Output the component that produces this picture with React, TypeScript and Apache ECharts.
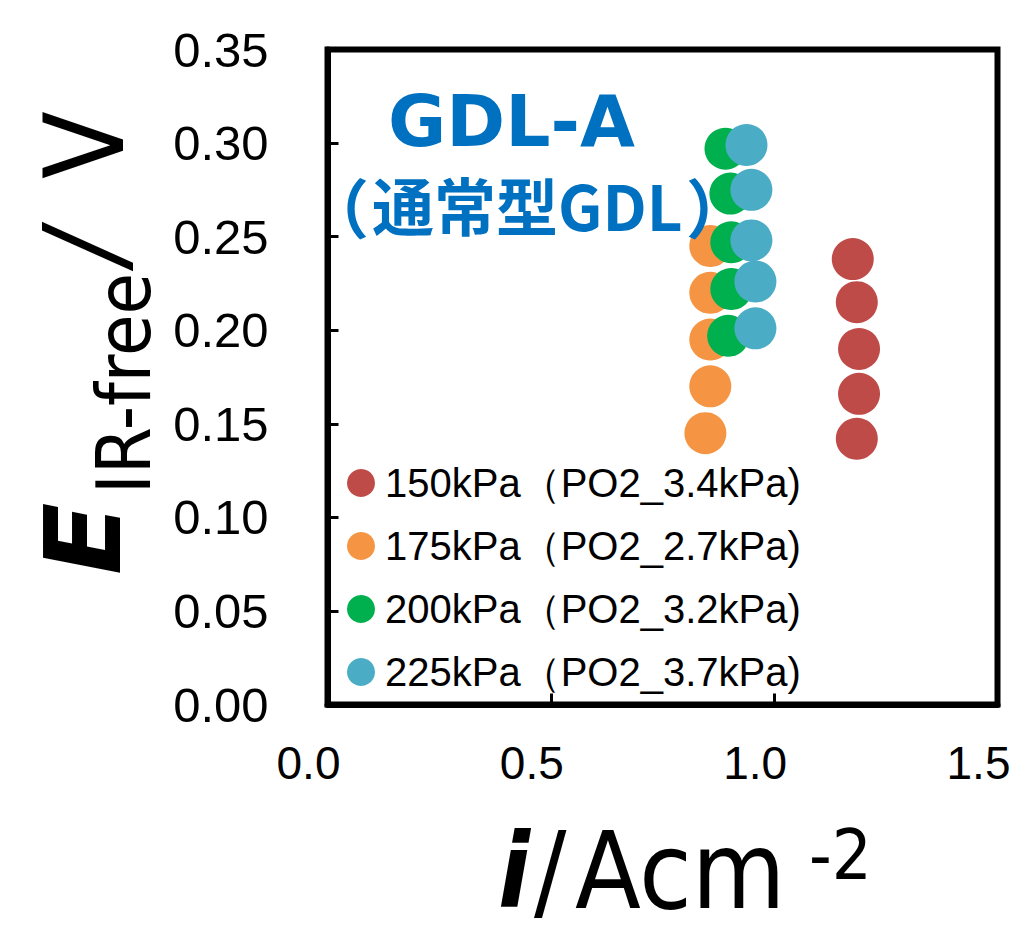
import React, { useEffect, useRef } from "react";
import * as echarts from "echarts";

const seriesNames = [
  "150kPa（PO2_3.4kPa)",
  "175kPa（PO2_2.7kPa)",
  "200kPa（PO2_3.2kPa)",
  "225kPa（PO2_3.7kPa)",
];
const seriesColors = ["#BE4B48", "#F59543", "#00B04F", "#4BACC6"];

const x150 = [1.176, 1.185, 1.19, 1.19, 1.185];
const y150 = [0.238, 0.215, 0.19, 0.166, 0.142];
const x175 = [0.857, 0.857, 0.857, 0.857, 0.846];
const y175 = [0.245, 0.22, 0.195, 0.17, 0.145];
const x200 = [0.891, 0.902, 0.904, 0.904, 0.897];
const y200 = [0.297, 0.273, 0.247, 0.222, 0.197];
const x225 = [0.938, 0.949, 0.949, 0.958, 0.958];
const y225 = [0.299, 0.275, 0.248, 0.226, 0.201];

const xs = [x150, x175, x200, x225];
const ys = [y150, y175, y200, y225];

const TF = "'DejaVu Sans Condensed', 'Open Sans', sans-serif";

const txt = (x: number, y: number, text: string, font: string, extra: any = {}) => ({
  type: "text",
  x,
  y,
  rotation: extra.rotation || 0,
  z: 10,
  style: {
    text,
    fill: extra.fill || "#000",
    font,
    textAlign: extra.align || "left",
    textVerticalAlign: "middle",
    lineHeight: extra.lineHeight,
  },
});

export default function App() {
  const ref = useRef<HTMLDivElement>(null);
  useEffect(() => {
    if (!ref.current) return;
    const chart = echarts.init(ref.current, null, { renderer: "svg" });
    const series = seriesNames.map((name, i) => ({
      name,
      type: "scatter",
      symbol: "circle",
      symbolSize: 42,
      itemStyle: { color: seriesColors[i], opacity: 1 },
      data: xs[i].map((x, k) => [x, ys[i][k]]),
      z: 2 + i,
    }));
    const axisLine = { show: true, onZero: false, lineStyle: { color: "#000", width: 6 } };
    const axisTick = { show: true, inside: true, length: 11, lineStyle: { color: "#000", width: 3 } };
    chart.setOption({
      animation: false,
      backgroundColor: "#ffffff",
      grid: {
        left: 327.5,
        top: 49.5,
        width: 670,
        height: 655,
        containLabel: false,
        outerBoundsMode: "none",
        show: true,
        borderColor: "#000",
        borderWidth: 6,
        backgroundColor: "transparent",
      },
      xAxis: {
        type: "value",
        min: 0,
        max: 1.5,
        interval: 0.5,
        axisLine,
        axisTick,
        splitLine: { show: false },
        axisLabel: {
          color: "#000",
          fontSize: 46,
          fontFamily: "'Liberation Sans Narrow', 'Liberation Sans'",
          margin: 35,
          padding: [0, 38, 0, 0],
          showMaxLabel: true,
          hideOverlap: false,
          formatter: (v: number) => v.toFixed(1),
        },
      },
      yAxis: {
        type: "value",
        min: 0,
        max: 0.35,
        interval: 0.05,
        axisLine,
        axisTick,
        splitLine: { show: false },
        axisLabel: {
          color: "#000",
          fontSize: 49,
          fontFamily: "Liberation Sans",
          margin: 59,
          formatter: (v: number) => v.toFixed(2),
        },
      },
      legend: {
        orient: "vertical",
        left: 347,
        top: 463,
        padding: 0,
        itemWidth: 28,
        itemHeight: 28,
        itemGap: 23,
        icon: "circle",
        data: seriesNames,
        textStyle: {
          color: "#000",
          fontSize: 40,
          lineHeight: 40,
          fontFamily: "Liberation Sans",
          padding: [0, 0, 0, 5],
        },
        selectedMode: false,
      },
      graphic: [
        txt(388, 121, "GDL-A", "bold 71px 'DejaVu Sans'", { fill: "#0070C0" }),
        txt(369, 205, "（", "bold 64px 'Noto Sans CJK JP'", { fill: "#0070C0", align: "right" }),
        txt(372, 204, "通常型GDL", "bold 62px 'Noto Sans CJK JP'", { fill: "#0070C0" }),
        txt(686, 205, "）", "bold 64px 'Noto Sans CJK JP'", { fill: "#0070C0" }),
        // y-axis title
        txt(83, 575, "E", "italic bold 106px 'DejaVu Sans'", { rotation: Math.PI / 2 }),
        txt(124, 494, "IR-free", `75px ${TF}`, { rotation: Math.PI / 2 }),
        txt(85, 264, "/", `italic 110px ${TF}`, { rotation: Math.PI / 2 }),
        txt(85, 179, "V", `110px ${TF}`, { rotation: Math.PI / 2 }),
        // x-axis title
        txt(498, 871, "i", `italic bold 104px ${TF}`, { lineHeight: 80 }),
        txt(534, 871, "/", `107px ${TF}`, { lineHeight: 80 }),
        txt(575, 871, "Acm", `107px ${TF}`, { lineHeight: 80 }),
        txt(809, 855, "-2", `70px ${TF}`, { lineHeight: 60 }),
      ],
      series,
    });
    return () => chart.dispose();
  }, []);
  return <div ref={ref} style={{ position: "fixed", left: 0, top: 0, width: 1018, height: 925 }} />;
}
